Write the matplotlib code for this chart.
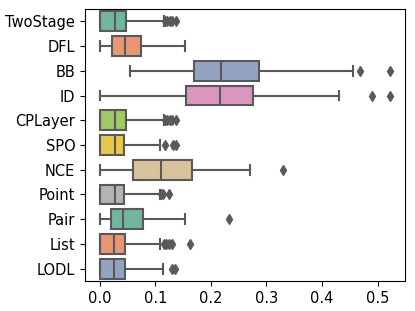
import matplotlib
matplotlib.use("Agg")
import matplotlib.pyplot as plt
import seaborn as sns

methods = ["TwoStage", "DFL", "BB", "ID", "CPLayer", "SPO", "NCE",
           "Point", "Pair", "List", "LODL"]
whislo = [0.0, 0.0, 0.054, 0.0, 0.0, 0.0, 0.0, 0.0, 0.0, 0.0, 0.0]
q1 = [0.0, 0.022, 0.170, 0.156, 0.0, 0.0, 0.061, 0.0, 0.020, 0.0, 0.0]
med = [0.028, 0.045, 0.218, 0.216, 0.028, 0.028, 0.111, 0.027, 0.043, 0.026, 0.026]
q3 = [0.047, 0.074, 0.286, 0.275, 0.047, 0.044, 0.167, 0.044, 0.078, 0.046, 0.046]
whishi = [0.116, 0.154, 0.455, 0.431, 0.116, 0.108, 0.270, 0.109, 0.154, 0.108, 0.114]
fliers = [
    [0.118, 0.122, 0.126, 0.131, 0.137],
    [],
    [0.468, 0.522],
    [0.489, 0.522],
    [0.118, 0.122, 0.126, 0.131, 0.137],
    [0.118, 0.132, 0.137],
    [0.330],
    [0.111, 0.114, 0.124],
    [0.233],
    [0.115, 0.119, 0.124, 0.131, 0.162],
    [0.131, 0.135],
]

stats = []
for i in range(len(methods)):
    stats.append(dict(label=methods[i], whislo=whislo[i], q1=q1[i], med=med[i],
                      q3=q3[i], whishi=whishi[i], fliers=fliers[i]))

colors = sns.color_palette("Set2", len(methods), desat=0.75)
gray = "#595959"

fig = plt.figure(figsize=(4.15, 3.11), dpi=100)
ax = fig.add_axes([0.205, 0.0965, 0.771, 0.8745])

bp = ax.bxp(stats, positions=range(len(methods)), vert=False, widths=0.8,
            patch_artist=True,
            boxprops=dict(edgecolor=gray, linewidth=1.5),
            medianprops=dict(color=gray, linewidth=1.5),
            whiskerprops=dict(color=gray, linewidth=1.5),
            capprops=dict(color=gray, linewidth=1.5),
            flierprops=dict(marker="d", markerfacecolor=gray, markeredgecolor=gray,
                            markersize=5, linestyle="none"))
for patch, c in zip(bp["boxes"], colors):
    patch.set_facecolor(c)

# categories top to bottom
ax.set_yticks(range(len(methods)))
ax.set_yticklabels(methods)
ax.set_ylim(len(methods) - 0.5, -0.5)
ax.set_xlim(-0.026, 0.549)
ax.set_xticks([0.0, 0.1, 0.2, 0.3, 0.4, 0.5])
ax.tick_params(labelsize=10.5)

fig.savefig("out.png", dpi=100)
